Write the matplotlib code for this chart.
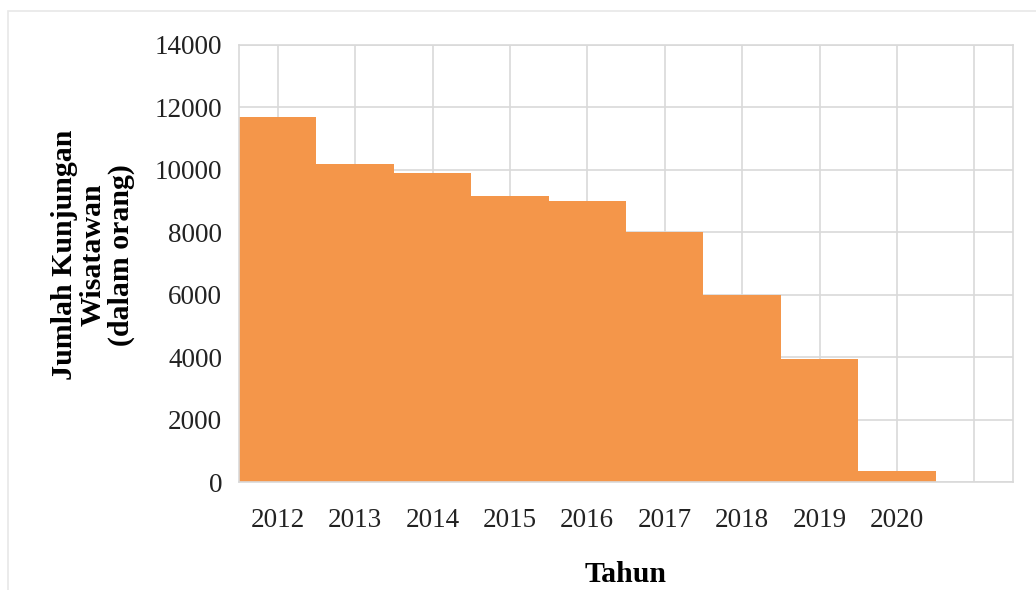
import matplotlib.pyplot as plt
from matplotlib.patches import Rectangle

tahun = [2012, 2013, 2014, 2015, 2016, 2017, 2018, 2019, 2020]
kunjungan = [11700, 10200, 9900, 9150, 9000, 8000, 6000, 3950, 350]
grid_x = [2012, 2013, 2014, 2015, 2016, 2017, 2018, 2019, 2020, 2021]
tick_labels = ["2012", "2013", "2014", "2015", "2016", "2017", "2018", "2019", "2020", ""]

plt.rcParams['font.family'] = ['Liberation Serif', 'DejaVu Serif']

fig = plt.figure(figsize=(10.36, 5.9), dpi=100)
# faint outer frame of the chart
fig.patches.append(Rectangle((8 / 1036, -0.1), 1.2, 1 - 11 / 590 + 0.1,
                             transform=fig.transFigure, fill=False,
                             edgecolor='#e8e8e8', linewidth=1.2))

ax = fig.add_axes([239 / 1036, 1 - 482 / 590, 774 / 1036, 437 / 590])
ax.bar(tahun, kunjungan, width=1.0, color='#F4964A', zorder=2)

ax.set_xlim(2011.5, 2021.5)
ax.set_ylim(0, 14000)
ax.set_xticks(grid_x)
ax.set_xticklabels(tick_labels)
ax.set_yticks(range(0, 14001, 2000))
ax.grid(True, color='#d9d9d9', linewidth=1.2, zorder=0)
ax.set_axisbelow(True)
ax.tick_params(axis='both', length=0, labelsize=19.5, colors='#222222')
ax.tick_params(axis='y', pad=12)
ax.tick_params(axis='x', pad=19)
for s in ax.spines.values():
    s.set_color('#d9d9d9')
    s.set_linewidth(1.2)

ax.set_xlabel("Tahun", fontsize=21.5, fontweight='bold', labelpad=20)
fig.text(93 / 1036, 1 - 255 / 590, "Jumlah Kunjungan\nWisatawan\n(dalam orang)",
         rotation=90, ha='center', va='center', multialignment='center',
         fontsize=21.5, fontweight='bold', linespacing=1.05)

plt.savefig("out.png", dpi=100)
